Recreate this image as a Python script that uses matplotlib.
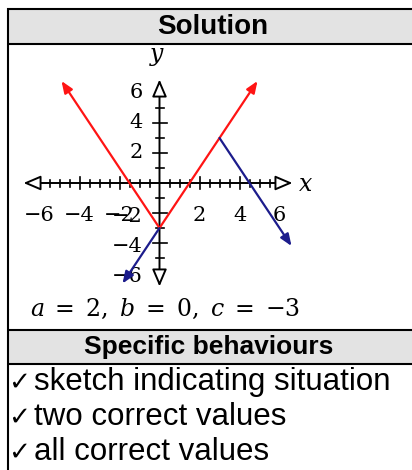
import matplotlib
matplotlib.use("Agg")
import matplotlib.pyplot as plt
from matplotlib.patches import Rectangle, FancyArrowPatch
import numpy as np

plt.rcParams['mathtext.fontset'] = 'dejavuserif'

# ---- data ----
red_x = [-4.9, 0, 4.9]
red_y = [6.8, -3, 6.8]
blue1_x = [0, -1.85]
blue1_y = [-3, -6.7]
blue2_x = [3, 6.6]
blue2_y = [3, -4.2]
xtick_labels = [-6, -4, -2, 2, 4, 6]
ytick_labels = [-6, -4, -2, 2, 4, 6]
header1 = "Solution"
answer = r"$a\;=\;2,\ b\;=\;0,\ c\;=\;{-3}$"
header2 = "Specific behaviours"
behaviours = ["sketch indicating situation", "two correct values", "all correct values"]

W, H = 412, 470
fig = plt.figure(figsize=(W / 100, H / 100), dpi=100)

# table frame in pixel coordinates
tab = fig.add_axes([0, 0, 1, 1])
tab.set_xlim(0, W)
tab.set_ylim(H, 0)
tab.axis('off')

GRAY = '#e3e3e3'
tab.add_patch(Rectangle((9, 9), W, 34, facecolor=GRAY, edgecolor='none'))
tab.add_patch(Rectangle((9, 330), W, 33, facecolor=GRAY, edgecolor='none'))
lw = 1.5
for yy in [8.5, 44, 329.5, 364]:
    tab.plot([7, W + 5], [yy, yy], color='black', lw=lw, solid_capstyle='butt')
tab.plot([8, 8], [7.5, H + 5], color='black', lw=lw, solid_capstyle='butt')

sans = ['Liberation Sans', 'DejaVu Sans']
tab.text(213, 27, header1, ha='center', va='center', fontsize=20, fontweight='bold', family=sans)
tab.text(209, 347, header2, ha='center', va='center', fontsize=19, fontweight='bold', family=sans)
tab.text(30, 309, answer, ha='left', va='center', fontsize=17)
for i, b in enumerate(behaviours):
    yb = 390 + i * 35
    tab.text(8, yb, "\u2713", ha='left', va='baseline', fontsize=19, family=['DejaVu Sans'])
    tab.text(34, yb, b, ha='left', va='baseline', fontsize=22.5, family=sans)

# plot axes
x0, yax = 159.5, 183.0
sx, sy = 20.0, 15.0
L, R, T, B = 9, 412, 45, 328
ax = fig.add_axes([L / W, 1 - B / H, (R - L) / W, (B - T) / H])
ax.set_xlim((L - x0) / sx, (R - x0) / sx)
ax.set_ylim((yax - B) / sy, (yax - T) / sy)
ax.axis('off')
ax.patch.set_alpha(0)

# axes with open arrowheads
ax_arrow = dict(arrowstyle='<|-|>,head_length=0.75,head_width=0.32', mutation_scale=14,
                fc='white', ec='black', lw=1.4, shrinkA=0, shrinkB=0, zorder=3)
ax.add_patch(FancyArrowPatch((-6.8, 0), (6.65, 0), **ax_arrow))
ax.add_patch(FancyArrowPatch((0, -6.9), (0, 6.9), **ax_arrow))

# ticks
px_y = 1 / sy
px_x = 1 / sx
for t in np.arange(-6.0, 5.51, 0.5):
    if abs(t) < 1e-9:
        continue
    long = abs(t) in (2, 4)
    h = (6 if long else 3.5) * px_y
    ax.plot([t, t], [-h, h], color='black', lw=1.2, zorder=2)
for t in range(-5, 6):
    if t == 0:
        continue
    long = t % 2 == 0
    w = (7 if long else 4) * px_x
    ax.plot([-w, w], [t, t], color='black', lw=1.2, zorder=2)

serif = 'DejaVu Serif'
for v in xtick_labels:
    ax.text(v, -2.15, str(v).replace('-', '\u2212'), ha='center', va='center',
            fontsize=15, family=serif, zorder=4)
for v in ytick_labels:
    off = -0.25 if v < 0 else 0
    ax.text(-0.85, v + off, str(v).replace('-', '\u2212'), ha='right', va='center',
            fontsize=15, family=serif, zorder=4)
ax.text(6.95, -0.05, r'$x$', ha='left', va='center', fontsize=17, zorder=4)
ax.text(-0.1, 8.45, r'$y$', ha='center', va='center', fontsize=17, zorder=4)

RED = '#ff1414'
BLUE = '#1c1c8c'
ln_arrow = dict(arrowstyle='-|>,head_length=0.7,head_width=0.28', mutation_scale=10,
                lw=1.6, shrinkA=0, shrinkB=0, zorder=5)
# red V
ax.add_patch(FancyArrowPatch((red_x[1], red_y[1]), (red_x[0], red_y[0]), color=RED, **ln_arrow))
ax.add_patch(FancyArrowPatch((red_x[1], red_y[1]), (red_x[2], red_y[2]), color=RED, **ln_arrow))
# blue pieces
ax.add_patch(FancyArrowPatch((blue1_x[0], blue1_y[0]), (blue1_x[1], blue1_y[1]), color=BLUE, **ln_arrow))
ax.add_patch(FancyArrowPatch((blue2_x[0], blue2_y[0]), (blue2_x[1], blue2_y[1]), color=BLUE, **ln_arrow))

fig.savefig('out.png', dpi=100)
